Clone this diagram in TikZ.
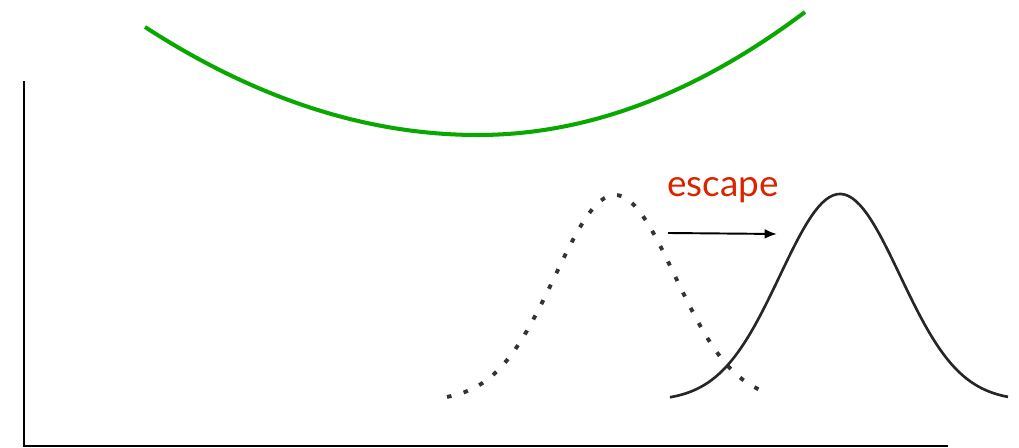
\documentclass[tikz,border=0pt]{standalone}
\usepackage{fontspec}
\setsansfont{Lato}
\usetikzlibrary{arrows.meta}
\definecolor{bowlgreen}{RGB}{8,168,0}
\definecolor{escred}{RGB}{218,36,0}

\begin{document}
\begin{tikzpicture}[x=0.02cm, y=-0.02cm,
  ax/.style={line width=1.7pt, line cap=rect},
  bowl/.style={line width=2.3pt, draw=bowlgreen},
  gauss/.style={line width=1.5pt, black!85},
  ghost/.style={line width=2.2pt, black!80, dash pattern=on 2.6pt off 7.2pt},
  lbl/.style={text=escred, font=\sffamily\fontsize{21}{24}\selectfont, anchor=base, inner sep=0pt}]
\useasboundingbox (0,0) rectangle (1019,448);
% axes
\coordinate (ytop) at (24,83);
\coordinate (orig) at (24,446);
\coordinate (xend) at (947,446);
\draw[ax] (ytop) -- (orig) -- (xend);
% potential
\coordinate (bl) at (145,27);
\coordinate (bv) at (478,135);
\coordinate (br) at (805,12);
\draw[bowl] (bl) .. controls (256,99) and (367,135) .. (bv)
  .. controls (587,135) and (696,94) .. (br);
% distributions before and after
\draw[ghost] plot[domain=447:765, samples=90] (\x, {401-206*exp(-((\x-615)/60)^2/2)});
\draw[gauss] plot[domain=670:1008, samples=90] (\x, {401-207*exp(-((\x-840)/60)^2/2)});
% label and arrow
\node[lbl] (esc) at (723,197) {escape};
\coordinate (a0) at (668,233);
\coordinate (a1) at (777,234);
\draw[line width=1.1pt, -{Latex[length=7pt, width=5.5pt]}] (a0) -- (a1);
\end{tikzpicture}
\end{document}
